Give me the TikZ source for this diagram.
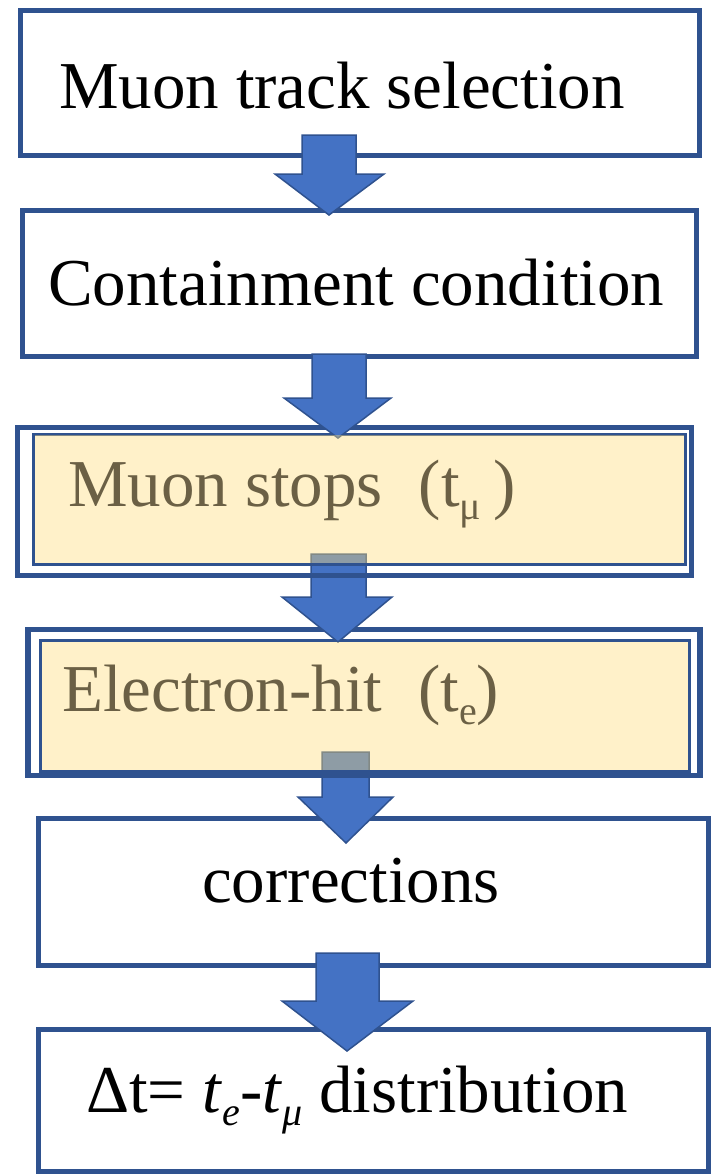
\documentclass[tikz,border=0pt]{standalone}
\usepackage{fontspec}
\setmainfont{Liberation Serif}
\definecolor{bdr}{HTML}{2F528F}
\definecolor{afill}{HTML}{4472C4}
\definecolor{yfill}{HTML}{FFDD77}
\definecolor{ytext}{HTML}{6B6045}
\newcommand\mysub[1]{\raisebox{-0.2em}{\fontsize{40}{40}\selectfont #1}}
\tikzset{
  wbox/.style={draw=bdr, line width=5pt, inner sep=0pt, rectangle},
  ybox/.style={draw=bdr, line width=3pt, inner sep=0pt, rectangle},
  yfillbox/.style={fill=yfill, fill opacity=0.4, inner sep=0pt, rectangle, draw=none},
  blk/.style={fill=afill, draw=bdr, line width=1.5pt, line join=miter},
  lbl/.style={anchor=base west, inner sep=0pt, font=\fontsize{67}{80}\selectfont},
}
\begin{document}
\begin{tikzpicture}[x=1pt,y=-1pt]
\useasboundingbox (0,0) rectangle (712,1175);
% white boxes
\node[wbox, minimum width=679pt, minimum height=145pt] (b1) at (359.5,82.5) {};
\node[wbox, minimum width=674pt, minimum height=146pt] (b2) at (359.5,283.5) {};
\node[wbox, minimum width=670.5pt, minimum height=146.5pt] (b5) at (373.25,891.75) {};
\node[wbox, minimum width=670.5pt, minimum height=142.5pt] (b6) at (373.25,1100.25) {};
% arrows 1, 5, 4
\draw[blk] (302,135) -- (356,135) -- (356,174) -- (384,174) -- (329,215) -- (275,174) -- (302,174) -- cycle;
\draw[blk] (316,953) -- (379,953) -- (379,1001) -- (413,1001) -- (347,1051) -- (282,1001) -- (316,1001) -- cycle;
\draw[blk] (322,752) -- (369,752) -- (369,797) -- (393,797) -- (346,843) -- (298,797) -- (322,797) -- cycle;
% box 4 borders
\node[wbox, line width=5.5pt, minimum width=672pt, minimum height=146pt] (b4o) at (364,702.5) {};
\node[ybox, minimum width=649.5pt, minimum height=131pt] (b4) at (364.75,705.5) {};
% arrow 3
\draw[blk] (311,554) -- (366,554) -- (366,597) -- (392,597) -- (338,642) -- (282,597) -- (311,597) -- cycle;
% box 3 borders
\node[wbox, minimum width=674.5pt, minimum height=148pt] (b3o) at (354.25,501.5) {};
\node[ybox, minimum width=652pt, minimum height=130.5pt] (b3) at (359.5,499.25) {};
% arrow 2
\draw[blk] (312,354) -- (366,354) -- (366,398) -- (391,398) -- (338,438) -- (284,398) -- (312,398) -- cycle;
% translucent yellow fills
\node[yfillbox, minimum width=649pt, minimum height=128pt] (f3) at (b3.center) {};
\node[yfillbox, minimum width=646.5pt, minimum height=128pt] (f4) at (b4.center) {};
% texts
\node[lbl] (t1) at (59,108) {Muon track selection};
\node[lbl] (t2) at (48,305) {Containment condition};
\node[lbl, text=ytext] (t3) at (68,506) {Muon stops\hspace{36pt}(t\mysub{μ}\hspace{12pt})};
\node[lbl, text=ytext] (t4) at (62,711) {Electron-hit\hspace{36pt}(t\mysub{e})};
\node[lbl] (t5) at (202,902) {corrections};
\node[lbl] (t6) at (86,1112) {Δt= \textit{t}\mysub{\textit{e}}-\textit{t}\mysub{\textit{μ}} distribution};
\end{tikzpicture}
\end{document}
